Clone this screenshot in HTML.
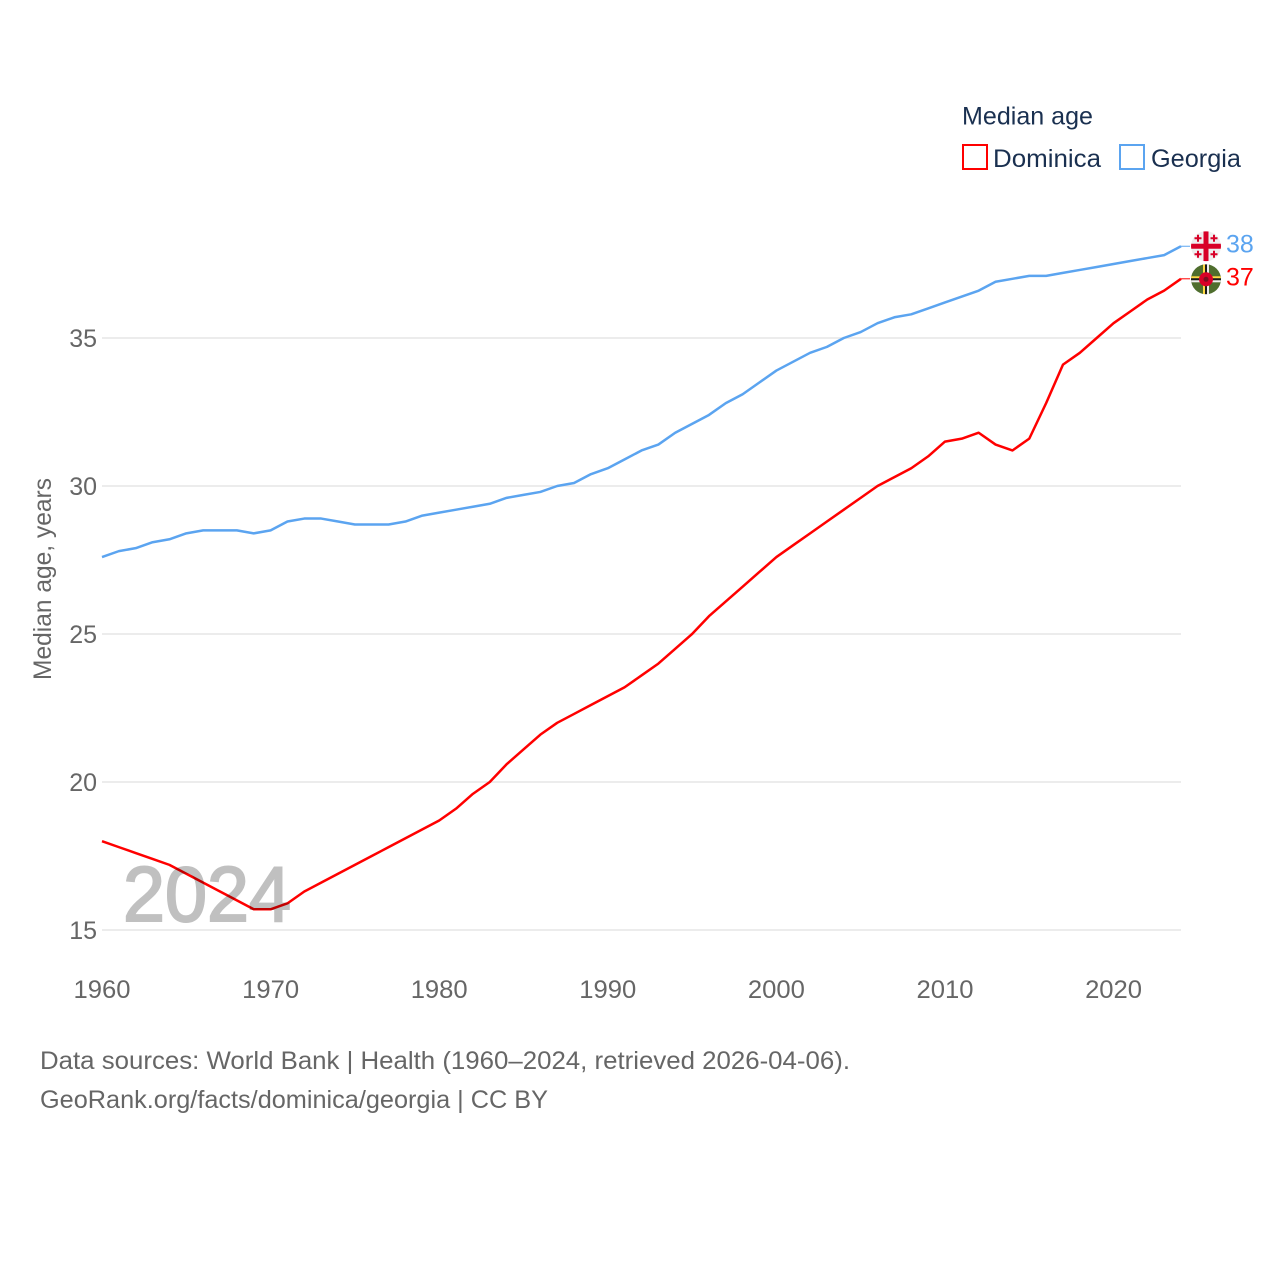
<!DOCTYPE html>
<html>
<head>
<meta charset="utf-8">
<title>Median age: Dominica and Georgia</title>
<style>
html,body{margin:0;padding:0;background:#fff}
svg{display:block}
text{font-family:"Liberation Sans",sans-serif}
</style>
</head>
<body>
<svg id="chart" width="1280" height="1280" viewBox="0 0 1280 1280" xmlns="http://www.w3.org/2000/svg">
  <defs>
    <clipPath id="flag-clip"><circle cx="0" cy="0" r="15"/></clipPath>
  </defs>
  <g id="grid"></g>
  <g id="yticks"></g>
  <g id="xticks"></g>
  <text x="51" y="579" transform="rotate(-90 51 579)" text-anchor="middle" font-size="25" fill="#666" textLength="202" lengthAdjust="spacingAndGlyphs">Median age, years</text>
  <g id="series"></g>
  <text x="123" y="921" font-size="78" fill="#c0c0c0" stroke="#c0c0c0" stroke-width="2" textLength="168" lengthAdjust="spacingAndGlyphs" style="mix-blend-mode:multiply">2024</text>

  <g id="flag-georgia">
    <g clip-path="url(#flag-clip)">
      <rect x="-15" y="-15" width="30" height="30" fill="#eeeeee"/>
      <rect x="-15" y="-2.5" width="30" height="5" fill="#d80027"/>
      <rect x="-2.5" y="-15" width="5" height="30" fill="#d80027"/>
      <g fill="#d80027">
        <path d="M-11.5 -9h7v2h-7zM-9 -11.5h2v7h-2z"/>
        <path d="M4.5 -9h7v2h-7zM7 -11.5h2v7h-2z"/>
        <path d="M-11.5 7h7v2h-7zM-9 4.5h2v7h-2z"/>
        <path d="M4.5 7h7v2h-7zM7 4.5h2v7h-2z"/>
      </g>
    </g>
  </g>
  <g id="flag-dominica">
    <g clip-path="url(#flag-clip)">
      <rect x="-15" y="-15" width="30" height="30" fill="#4f6e2e"/>
      <rect x="-15" y="-3" width="30" height="2" fill="#ffda44"/>
      <rect x="-15" y="-1" width="30" height="2" fill="#1a1a1a"/>
      <rect x="-15" y="1" width="30" height="2" fill="#f0f0f0"/>
      <rect x="-3" y="-15" width="2" height="30" fill="#ffda44"/>
      <rect x="-1" y="-15" width="2" height="30" fill="#1a1a1a"/>
      <rect x="1" y="-15" width="2" height="30" fill="#f0f0f0"/>
      <circle cx="0" cy="0" r="7" fill="#d80027"/>
      <circle cx="0" cy="0" r="2.5" fill="#7a1020"/>
    </g>
  </g>
  <g id="end-labels"></g>

  <g>
    <text x="962" y="124.5" font-size="25" fill="#1a3050" textLength="131" lengthAdjust="spacingAndGlyphs">Median age</text>
    <g>
      <rect x="963" y="145" width="24" height="24" fill="#fff" stroke="#ff0000" stroke-width="2"/>
      <text x="993" y="167" font-size="25" fill="#1a3050" textLength="108" lengthAdjust="spacingAndGlyphs">Dominica</text>
    </g>
    <g>
      <rect x="1120" y="145" width="24" height="24" fill="#fff" stroke="#5ba4f0" stroke-width="2"/>
      <text x="1151" y="167" font-size="25" fill="#1a3050" textLength="90" lengthAdjust="spacingAndGlyphs">Georgia</text>
    </g>
  </g>

  <text x="40" y="1069" font-size="25" fill="#666" textLength="810" lengthAdjust="spacingAndGlyphs">Data sources: World Bank | Health (1960–2024, retrieved 2026-04-06).</text>
  <text x="40" y="1108" font-size="25" fill="#666" textLength="508" lengthAdjust="spacingAndGlyphs">GeoRank.org/facts/dominica/georgia | CC BY</text>
</svg>
<script>
const firstYear = 1960;
const yTicks = [15, 20, 25, 30, 35];
const xTicks = [1960, 1970, 1980, 1990, 2000, 2010, 2020];
const dominicaValues = [18.0,17.8,17.6,17.4,17.2,16.9,16.6,16.3,16.0,15.7,15.7,15.9,16.3,16.6,16.9,17.2,17.5,17.8,18.1,18.4,18.7,19.1,19.6,20.0,20.6,21.1,21.6,22.0,22.3,22.6,22.9,23.2,23.6,24.0,24.5,25.0,25.6,26.1,26.6,27.1,27.6,28.0,28.4,28.8,29.2,29.6,30.0,30.3,30.6,31.0,31.5,31.6,31.8,31.4,31.2,31.6,32.8,34.1,34.5,35.0,35.5,35.9,36.3,36.6,37.0];
const georgiaValues = [27.6,27.8,27.9,28.1,28.2,28.4,28.5,28.5,28.5,28.4,28.5,28.8,28.9,28.9,28.8,28.7,28.7,28.7,28.8,29.0,29.1,29.2,29.3,29.4,29.6,29.7,29.8,30.0,30.1,30.4,30.6,30.9,31.2,31.4,31.8,32.1,32.4,32.8,33.1,33.5,33.9,34.2,34.5,34.7,35.0,35.2,35.5,35.7,35.8,36.0,36.2,36.4,36.6,36.9,37.0,37.1,37.1,37.2,37.3,37.4,37.5,37.6,37.7,37.8,38.1];

const NS = 'http://www.w3.org/2000/svg';
const plotLeft = 102, plotRight = 1181;
const lastYear = firstYear + dominicaValues.length - 1;
function xScale(year) { return plotLeft + (year - firstYear) * (plotRight - plotLeft) / (lastYear - firstYear); }
function yScale(v) { return 930 - (v - 15) * 29.6; }
function make(tag, attrs, text) {
  const el = document.createElementNS(NS, tag);
  for (const k in attrs) el.setAttribute(k, attrs[k]);
  if (text !== undefined) el.textContent = text;
  return el;
}

const grid = document.getElementById('grid');
const yGroup = document.getElementById('yticks');
yTicks.forEach(function (t) {
  const line = make('line', {x1: plotLeft, x2: plotRight, y1: yScale(t), y2: yScale(t), stroke: '#e6e6e6', 'stroke-width': 1.5});
  
  
  grid.appendChild(line);
  const label = make('text', {x: 97, y: yScale(t) + 9, 'text-anchor': 'end', 'font-size': 25, fill: '#666'}, String(t));
  
  
  yGroup.appendChild(label);
});

const xGroup = document.getElementById('xticks');
xTicks.forEach(function (t) {
  const label = make('text', {x: xScale(t), y: 998, 'text-anchor': 'middle', 'font-size': 25, fill: '#666', textLength: 57, lengthAdjust: 'spacingAndGlyphs'}, String(t));
  
  
  xGroup.appendChild(label);
});

function linePath(values) {
  return values.map(function (v, i) {
    return (i ? 'L' : 'M') + xScale(firstYear + i).toFixed(2) + ' ' + yScale(v).toFixed(2);
  }).join(' ');
}
const seriesGroup = document.getElementById('series');
const labelGroup = document.getElementById('end-labels');

const georgiaLine = make('path', {d: linePath(georgiaValues), fill: 'none', stroke: '#5ba4f0', 'stroke-width': 2.5, 'stroke-linejoin': 'round'});


seriesGroup.appendChild(georgiaLine);

const dominicaLine = make('path', {d: linePath(dominicaValues), fill: 'none', stroke: '#ff0000', 'stroke-width': 2.5, 'stroke-linejoin': 'round'});


seriesGroup.appendChild(dominicaLine);

const gY = yScale(georgiaValues[georgiaValues.length - 1]);
const dY = yScale(dominicaValues[dominicaValues.length - 1]);

document.getElementById('flag-georgia').setAttribute('transform', 'translate(1206 ' + gY + ')');
document.getElementById('flag-dominica').setAttribute('transform', 'translate(1206 ' + (dY + 0.5) + ')');

const georgiaLeader = make('line', {x1: plotRight, x2: 1190, y1: gY, y2: gY, stroke: '#5ba4f0', 'stroke-width': 1});


labelGroup.appendChild(georgiaLeader);

const dominicaLeader = make('line', {x1: plotRight, x2: 1190, y1: dY, y2: dY, stroke: '#ff0000', 'stroke-width': 1});


labelGroup.appendChild(dominicaLeader);

const georgiaEnd = make('text', {x: 1226, y: gY + 6.5, 'font-size': 25, fill: '#5ba4f0'}, String(Math.round(georgiaValues[georgiaValues.length - 1])));


labelGroup.appendChild(georgiaEnd);

const dominicaEnd = make('text', {x: 1226, y: dY + 6.5, 'font-size': 25, fill: '#ff0000'}, String(Math.round(dominicaValues[dominicaValues.length - 1])));


labelGroup.appendChild(dominicaEnd);
</script>
</body>
</html>
